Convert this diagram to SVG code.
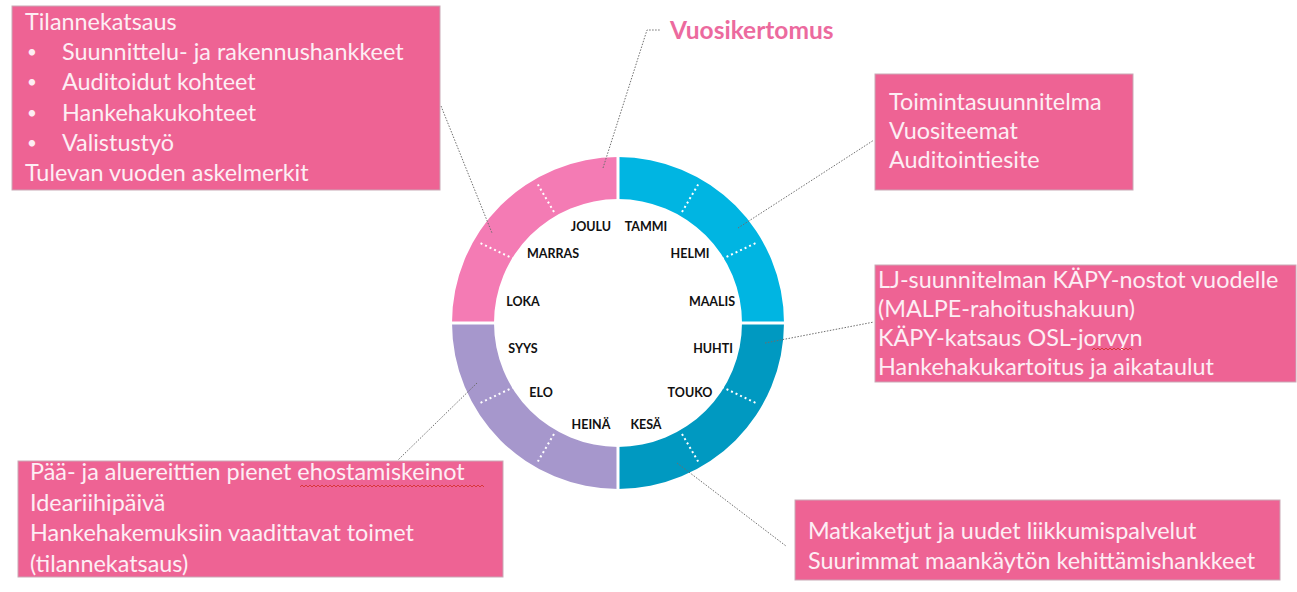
<svg xmlns="http://www.w3.org/2000/svg" width="1297" height="592" viewBox="0 0 1297 592">
<style>
.box{fill:#EE6394;stroke:#C9A9B6;stroke-width:1}
.bt{font-family:Lato,"Open Sans","Liberation Sans",sans-serif;font-size:23.4px;fill:#FDEEF4}
.bu{font-family:Lato,"Liberation Sans",sans-serif;font-size:17px;fill:#FDEEF4}
.m{font-family:Lato,"Liberation Sans",sans-serif;font-size:12.5px;font-weight:bold;fill:#111;text-anchor:middle}
.tick{stroke:#FFFFFF;stroke-width:2;stroke-dasharray:2 3;fill:none}
.con{stroke:#6E6E6E;stroke-width:1;stroke-dasharray:1.5 1.5;fill:none}
.sq{stroke:#D8383C;stroke-width:1;fill:none}
</style>
<rect width="1297" height="592" fill="#FFFFFF"/>
<g id="ring">
<path d="M618,157 A166,166 0 0 1 784,323 L742,323 A124,124 0 0 0 618,199 Z" fill="#00B5E2"/>
<path d="M784,323 A166,166 0 0 1 618,489 L618,447 A124,124 0 0 0 742,323 Z" fill="#0099C1"/>
<path d="M618,489 A166,166 0 0 1 452,323 L494,323 A124,124 0 0 0 618,447 Z" fill="#A697CC"/>
<path d="M452,323 A166,166 0 0 1 618,157 L618,199 A124,124 0 0 0 494,323 Z" fill="#F47BB4"/>
<path d="M618,150 V205 M618,441 V495 M445,323 H500 M736,323 H790" stroke="#FFFFFF" stroke-width="3"/>
<path class="tick" d="M682,212 L699,183 M722,259 L758,242 M722,387 L758,404 M682,434 L699,463 M554,434 L537,463 M514,387 L478,404 M514,259 L478,242 M554,212 L537,183"/>
</g>
<g id="months">
<text class="m" x="591" y="231">JOULU</text>
<text class="m" x="646" y="231">TAMMI</text>
<text class="m" x="553" y="258">MARRAS</text>
<text class="m" x="690" y="258">HELMI</text>
<text class="m" x="523" y="306">LOKA</text>
<text class="m" x="712" y="306">MAALIS</text>
<text class="m" x="523" y="353">SYYS</text>
<text class="m" x="713" y="353">HUHTI</text>
<text class="m" x="541" y="397">ELO</text>
<text class="m" x="690" y="397">TOUKO</text>
<text class="m" x="591" y="429">HEINÄ</text>
<text class="m" x="646" y="429">KESÄ</text>
</g>
<g id="connectors">
<path class="con" d="M441,106 L492,233"/>
<path class="con" d="M603,168 L647,30 L660,30"/>
<path class="con" d="M738,228 L874,140"/>
<path class="con" d="M765,343 L874,322"/>
<path class="con" d="M477,383 L398,460"/>
<path class="con" d="M677,463 L786,546"/>
</g>
<g id="vuosikertomus">
<text x="670" y="39" font-family="Lato,'Liberation Sans',sans-serif" font-size="24.5" font-weight="bold" fill="#EC6A9E">Vuosikertomus</text>
</g>
<g id="box-tilannekatsaus">
<rect class="box" x="12" y="6" width="428" height="184"/>
<text class="bt" x="25" y="30">Tilannekatsaus</text>
<text class="bu" x="27" y="58">•</text><text class="bt" x="62" y="60">Suunnittelu- ja rakennushankkeet</text>
<text class="bu" x="27" y="88">•</text><text class="bt" x="62" y="90">Auditoidut kohteet</text>
<text class="bu" x="27" y="119">•</text><text class="bt" x="62" y="121">Hankehakukohteet</text>
<text class="bu" x="27" y="149">•</text><text class="bt" x="62" y="151">Valistustyö</text>
<text class="bt" x="25" y="181">Tulevan vuoden askelmerkit</text>
</g>
<g id="box-toimintasuunnitelma">
<rect class="box" x="875" y="74" width="258" height="116"/>
<text class="bt" x="889" y="110">Toimintasuunnitelma</text>
<text class="bt" x="889" y="139">Vuositeemat</text>
<text class="bt" x="889" y="168">Auditointiesite</text>
</g>
<g id="box-kapy">
<rect class="box" x="875" y="265" width="421" height="117"/>
<text class="bt" x="878" y="288">LJ-suunnitelman KÄPY-nostot vuodelle</text>
<text class="bt" x="878" y="317">(MALPE-rahoitushakuun)</text>
<text class="bt" x="878" y="346">KÄPY-katsaus OSL-jorvyn</text>
<text class="bt" x="878" y="375">Hankehakukartoitus ja aikataulut</text>
<path class="sq" d="M1092,350 l2,-2 l2,2 l2,-2 l2,2 l2,-2 l2,2 l2,-2 l2,2 l2,-2 l2,2 l2,-2 l2,2 l2,-2 l2,2 l2,-2 l2,2 l2,-2 l2,2 l2,-2 l2,2"/>
</g>
<g id="box-ehostaminen">
<rect class="box" x="18" y="461" width="485" height="116"/>
<text class="bt" x="30" y="480">Pää- ja aluereittien pienet ehostamiskeinot</text>
<text class="bt" x="30" y="511">Ideariihipäivä</text>
<text class="bt" x="30" y="541">Hankehakemuksiin vaadittavat toimet</text>
<text class="bt" x="30" y="572">(tilannekatsaus)</text>
<path class="sq" d="M300,487 l2,-2 l2,2 l2,-2 l2,2 l2,-2 l2,2 l2,-2 l2,2 l2,-2 l2,2 l2,-2 l2,2 l2,-2 l2,2 l2,-2 l2,2 l2,-2 l2,2 l2,-2 l2,2 l2,-2 l2,2 l2,-2 l2,2 l2,-2 l2,2 l2,-2 l2,2 l2,-2 l2,2 l2,-2 l2,2 l2,-2 l2,2 l2,-2 l2,2 l2,-2 l2,2 l2,-2 l2,2 l2,-2 l2,2 l2,-2 l2,2 l2,-2 l2,2 l2,-2 l2,2 l2,-2 l2,2 l2,-2 l2,2 l2,-2 l2,2 l2,-2 l2,2 l2,-2 l2,2 l2,-2 l2,2 l2,-2 l2,2 l2,-2 l2,2 l2,-2 l2,2 l2,-2 l2,2 l2,-2 l2,2 l2,-2 l2,2 l2,-2 l2,2 l2,-2 l2,2 l2,-2 l2,2 l2,-2 l2,2 l2,-2 l2,2 l2,-2 l2,2 l2,-2 l2,2 l2,-2 l2,2 l2,-2 l2,2 l2,-2 l2,2"/>
</g>
<g id="box-matkaketjut">
<rect class="box" x="795" y="500" width="485" height="80"/>
<text class="bt" x="808" y="539">Matkaketjut ja uudet liikkumispalvelut</text>
<text class="bt" x="808" y="569">Suurimmat maankäytön kehittämishankkeet</text>
</g>
</svg>
